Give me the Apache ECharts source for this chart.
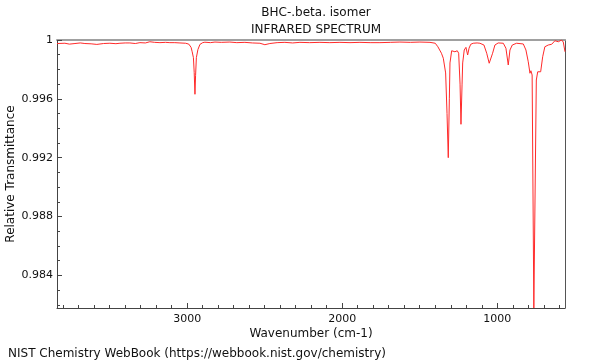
<!DOCTYPE html>
<html><head><meta charset="utf-8">
<script src="https://cdn.jsdelivr.net/npm/echarts@6/dist/echarts.min.js"></script>
<style>html,body{margin:0;padding:0;background:#fff}#c{width:600px;height:360px}</style>
</head><body><div id="c"></div>
<script>
const wavenumber = [3840,3789,3760,3724,3690,3660,3620,3583,3540,3499,3460,3434,3400,3370,3335,3305,3270,3241,3210,3176,3140,3112,3080,3047,3010,2990,2975,2968,2960,2955,2950,2946,2941,2931,2918,2900,2886,2850,2821,2780,2725,2680,2628,2580,2531,2499,2467,2420,2370,2320,2273,2210,2144,2080,2015,1950,1886,1820,1757,1690,1628,1560,1499,1434,1400,1383,1360,1348,1333,1324,1316,1309,1305,1294,1284,1273,1265,1258,1249,1240,1234,1227,1223,1213,1202,1191,1182,1171,1155,1130,1112,1086,1068,1052,1043,1030,1015,994,961,944,929,918,903,875,832,815,800,789,783,775,764,748,739,729,720,707,693,671,649,628,606,595,585,574,563];
const transmittance = [0.99976,0.99978,0.99972,0.99976,0.99980,0.99976,0.99974,0.99970,0.99976,0.99978,0.99975,0.99978,0.99980,0.99980,0.99976,0.99982,0.99980,0.99988,0.99984,0.99982,0.99984,0.99982,0.99982,0.99980,0.99978,0.99972,0.99950,0.99920,0.99880,0.99780,0.99631,0.99760,0.99880,0.99935,0.99970,0.99982,0.99985,0.99982,0.99986,0.99984,0.99986,0.99982,0.99984,0.99980,0.99978,0.99968,0.99976,0.99982,0.99984,0.99980,0.99984,0.99982,0.99984,0.99982,0.99984,0.99982,0.99984,0.99982,0.99982,0.99984,0.99986,0.99984,0.99986,0.99984,0.99978,0.99954,0.99910,0.99876,0.99776,0.99500,0.99200,0.99600,0.99844,0.99927,0.99939,0.99920,0.99925,0.99927,0.99910,0.99700,0.99427,0.99700,0.99844,0.99932,0.99950,0.99898,0.99944,0.99971,0.99978,0.99980,0.99978,0.99966,0.99910,0.99842,0.99844,0.99910,0.99966,0.99980,0.99978,0.99944,0.99830,0.99932,0.99966,0.99978,0.99973,0.99932,0.99852,0.99774,0.99791,0.99762,0.98178,0.99728,0.99784,0.99796,0.99784,0.99886,0.99954,0.99966,0.99971,0.99995,0.99988,1.00000,1.00000,0.99986,0.99920];
const xMajorTicks = [1000, 2000, 3000];
const yMajorTicks = [0.984, 0.988, 0.992, 0.996, 1];
const xMin = 563, xMax = 3840, yMin = 0.98178, yMax = 1.0;

const xMinorTicks = [];
for (let v = 600; v <= 3800; v += 100) xMinorTicks.push(v);
const yMinorTicks = [];
for (let k = 982; k <= 1000; k++) yMinorTicks.push(k / 1000);

const data = wavenumber.map((w, i) => [w, transmittance[i]]);
const font = 'DejaVu Sans';
const chart = echarts.init(document.getElementById('c'), null, {renderer: 'canvas'});
chart.setOption({
  animation: false,
  backgroundColor: '#fff',
  textStyle: {fontFamily: font},
  title: [
    {text: 'BHC-.beta. isomer', left: 311, top: 2, textAlign: 'center',
     textStyle: {fontSize: 12, fontWeight: 'normal', color: '#111', fontFamily: font}},
    {text: 'INFRARED SPECTRUM', left: 311, top: 19, textAlign: 'center',
     textStyle: {fontSize: 12, fontWeight: 'normal', color: '#111', fontFamily: font}},
    {text: 'NIST Chemistry WebBook (https://webbook.nist.gov/chemistry)', left: 3, top: 343,
     textStyle: {fontSize: 12, fontWeight: 'normal', color: '#111', fontFamily: font}}
  ],
  grid: {left: 57, right: 35, top: 40, bottom: 52, containLabel: false, outerBoundsMode: 'none'},
  xAxis: [
    {type: 'value', inverse: true, min: xMin, max: xMax, position: 'bottom', offset: 0,
     name: 'Wavenumber (cm-1)', nameLocation: 'middle', nameGap: 20, nameMoveOverlap: false,
     nameTextStyle: {fontSize: 12, color: '#111', fontFamily: font},
     axisLine: {show: true, lineStyle: {color: '#444', width: 1}},
     axisTick: {show: true, inside: true, length: 5, customValues: xMajorTicks, lineStyle: {color: '#444'}},
     axisLabel: {show: true, customValues: xMajorTicks, fontSize: 11, color: '#111', margin: 6,
                 fontFamily: font, formatter: v => String(v)},
     splitLine: {show: false}},
    {type: 'value', inverse: true, min: xMin, max: xMax, position: 'bottom', offset: 0,
     axisLine: {show: false},
     axisTick: {show: true, inside: true, length: 3, customValues: xMinorTicks, lineStyle: {color: '#444'}},
     axisLabel: {show: false}, splitLine: {show: false}},
    {type: 'value', inverse: true, min: xMin, max: xMax, position: 'top', offset: 0,
     axisLine: {show: true, lineStyle: {color: '#a0a0a0', width: 2}},
     axisTick: {show: false}, axisLabel: {show: false}, splitLine: {show: false}}
  ],
  yAxis: [
    {type: 'value', min: yMin, max: yMax, position: 'left', offset: 0,
     name: 'Relative Transmittance', nameLocation: 'middle', nameGap: 40, nameMoveOverlap: false,
     nameTextStyle: {fontSize: 12, color: '#111', fontFamily: font},
     axisLine: {show: true, lineStyle: {color: '#444', width: 1}},
     axisTick: {show: true, inside: true, length: 5, customValues: yMajorTicks, lineStyle: {color: '#444'}},
     axisLabel: {show: true, customValues: yMajorTicks, fontSize: 11, color: '#111', margin: 4,
                 fontFamily: font, formatter: v => String(+(+v).toFixed(3))},
     splitLine: {show: false}},
    {type: 'value', min: yMin, max: yMax, position: 'left', offset: 0,
     axisLine: {show: false},
     axisTick: {show: true, inside: true, length: 3, customValues: yMinorTicks, lineStyle: {color: '#444'}},
     axisLabel: {show: false}, splitLine: {show: false}},
    {type: 'value', min: yMin, max: yMax, position: 'right', offset: 0,
     axisLine: {show: true, lineStyle: {color: '#555', width: 1}},
     axisTick: {show: false}, axisLabel: {show: false}, splitLine: {show: false}}
  ],
  series: [{
    type: 'line', data: data, xAxisIndex: 0, yAxisIndex: 0,
    showSymbol: false, symbol: 'none', smooth: false, clip: true,
    lineStyle: {color: '#ff2a2a', width: 1}
  }]
});
</script></body></html>
